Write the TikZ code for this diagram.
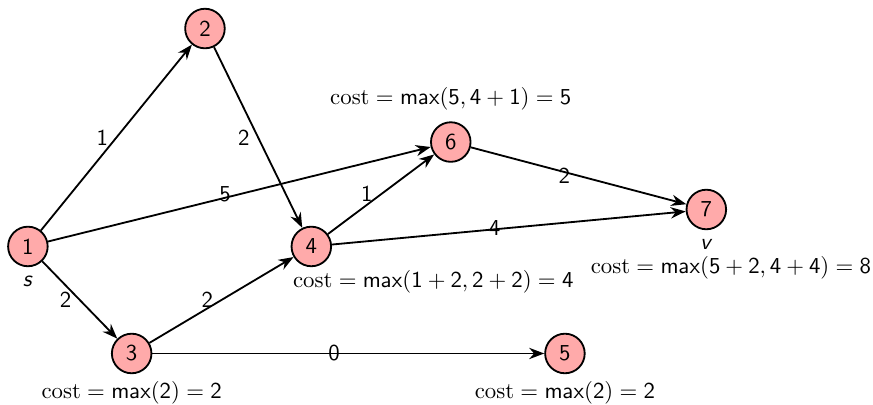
\documentclass[tikz,border=0pt]{standalone}
\usepackage{amsmath}
\usetikzlibrary{arrows.meta,positioning}
\definecolor{vpink}{RGB}{255,170,170}
\newcommand{\sv}[1]{\mathsf{#1}}

\begin{document}
\begin{tikzpicture}[>=Stealth,font=\sffamily,
  vtx/.style={circle,draw,thick,fill=vpink,minimum size=6.1mm,inner sep=0pt},
  arc/.style={->,thick},
  costlbl/.style={inner sep=1pt}]
\useasboundingbox (0,0) rectangle (13.46,6.23);
\node[vtx] (n1) at (0.43,2.43) {1};
\node[vtx] (n2) at (3.16,5.79) {2};
\node[vtx] (n3) at (2.03,0.78) {3};
\node[vtx] (n4) at (4.80,2.43) {4};
\node[vtx] (n5) at (8.71,0.78) {5};
\node[vtx] (n6) at (6.95,4.04) {6};
\node[vtx] (n7) at (10.89,3.0) {7};
\node[below=0.1mm of n1] (src) {\textit{s}};
\node[below=0.1mm of n7] (dst) {\textit{v}};
\draw[arc] (n1)--(n2) node[midway,left] {1};
\draw[arc] (n1)--(n3) node[midway,left] {2};
\draw[arc] (n1)--(n6) node[midway,left] {5};
\draw[arc] (n2)--(n4) node[midway,left] {2};
\draw[arc] (n3)--(n4) node[midway,left] {2};
\draw[arc] (n3)--(n5) node[midway,left] {0};
\draw[arc] (n4)--(n6) node[midway,left] {1};
\draw[arc] (n4)--(n7) node[midway,left] {4};
\draw[arc] (n6)--(n7) node[midway,left] {2};
\node[costlbl] (c3) at (2.03,0.17) {$\mathrm{cost}=\sv{max}(\sv{2})=\sv{2}$};
\node[costlbl] (c5) at (8.71,0.17) {$\mathrm{cost}=\sv{max}(\sv{2})=\sv{2}$};
\node[costlbl] (c4) at (6.68,1.89) {$\mathrm{cost}=\sv{max}(\sv{1}+\sv{2},\sv{2}+\sv{2})=\sv{4}$};
\node[costlbl] (c6) at (6.95,4.70) {$\mathrm{cost}=\sv{max}(\sv{5},\sv{4}+\sv{1})=\sv{5}$};
\node[costlbl] (c7) at (11.27,2.10) {$\mathrm{cost}=\sv{max}(\sv{5}+\sv{2},\sv{4}+\sv{4})=\sv{8}$};
\end{tikzpicture}
\end{document}
